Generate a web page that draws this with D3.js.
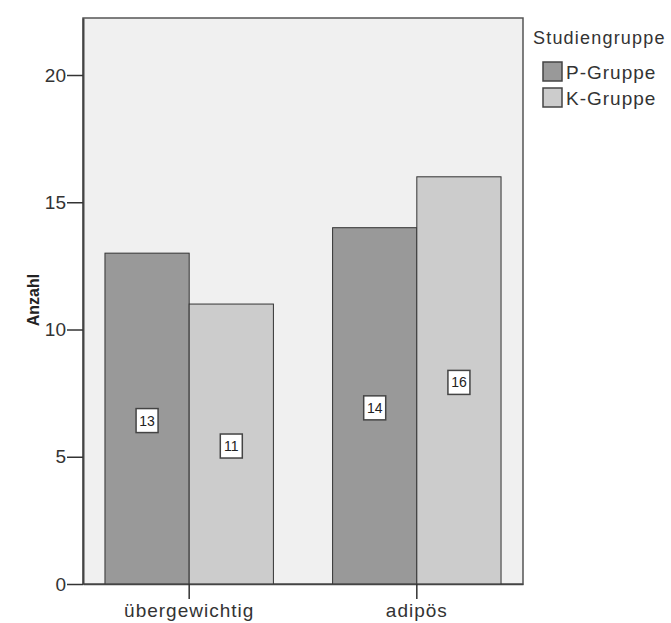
<!DOCTYPE html>
<html>
<head>
<meta charset="utf-8">
<script src="https://cdn.jsdelivr.net/npm/d3@7"></script>
<style>
  body { margin: 0; background: #fff; }
  svg { display: block; font-family: Arial, "Liberation Sans", sans-serif; }
</style>
</head>
<body>
<svg width="671" height="623"></svg>
<script>
// chart data
const categories = ["übergewichtig", "adipös"];
const groups = ["P-Gruppe", "K-Gruppe"];
const pValues = [13, 14];
const kValues = [11, 16];
const yTicks = [0, 5, 10, 15, 20];

const colors = { "P-Gruppe": "#999999", "K-Gruppe": "#cccccc" };

const rows = categories.map((c, i) => ({
  cat: c,
  vals: [{ g: "P-Gruppe", v: pValues[i] }, { g: "K-Gruppe", v: kValues[i] }]
}));

const svg = d3.select("svg");

const plot = { left: 83, right: 523, top: 18, bottom: 584 };

const y = d3.scaleLinear()
  .domain([0, 22.24])
  .range([plot.bottom, plot.top]);

const x0 = d3.scaleBand()
  .domain(categories)
  .range([plot.left, plot.right])
  .paddingInner(0.26)
  .paddingOuter(0.0965);

const x1 = d3.scaleBand()
  .domain(groups)
  .range([0, x0.bandwidth()]);

// plot background
svg.append("rect")
  .attr("x", plot.left).attr("y", plot.top)
  .attr("width", plot.right - plot.left)
  .attr("height", plot.bottom - plot.top)
  .attr("fill", "#f0f0f0")
  .attr("stroke", "#555")
  .attr("stroke-width", 1.5);

// bars
const g = svg.selectAll(".grp").data(rows).enter()
  .append("g")
  .attr("class", "grp")
  .attr("transform", d => `translate(${x0(d.cat)},0)`);

g.selectAll("rect").data(d => d.vals).enter()
  .append("rect")
  .attr("x", d => x1(d.g))
  .attr("y", d => y(d.v))
  .attr("width", x1.bandwidth())
  .attr("height", d => y(0) - y(d.v))
  .attr("fill", d => colors[d.g])
  .attr("stroke", "#333")
  .attr("stroke-width", 1);

// value labels in boxes
const lab = g.selectAll(".lab").data(d => d.vals).enter()
  .append("g")
  .attr("class", "lab")
  .attr("transform", d => `translate(${x1(d.g) + x1.bandwidth() / 2},${y(d.v / 2) + 2})`);

lab.append("rect")
  .attr("x", -11).attr("y", -12)
  .attr("width", 22).attr("height", 24)
  .attr("fill", "#fff")
  .attr("stroke", "#444")
  .attr("stroke-width", 1.5);

lab.append("text")
  .attr("text-anchor", "middle")
  .attr("dy", "0.36em")
  .style("font-size", "14px")
  .attr("fill", "#222")
  .text(d => d.v);

// y axis
const yAxis = d3.axisLeft(y)
  .tickValues(yTicks)
  .tickSize(16)
  .tickPadding(1)
  .tickSizeOuter(0);

const ya = svg.append("g")
  .attr("transform", `translate(${plot.left},0)`)
  .call(yAxis);
ya.select(".domain").attr("stroke", "#444").attr("stroke-width", 2);
ya.selectAll(".tick line").attr("stroke", "#333").attr("stroke-width", 1.5);
ya.selectAll(".tick text")
  .attr("fill", "#333")
  .style("font-size", "19px")
  .style("font-family", "Arial, 'Liberation Sans', sans-serif");

// x axis
const xAxis = d3.axisBottom(x0)
  .tickSize(15)
  .tickPadding(5)
  .tickSizeOuter(0);

const xa = svg.append("g")
  .attr("transform", `translate(0,${plot.bottom})`)
  .call(xAxis);
xa.select(".domain").attr("stroke", "#444").attr("stroke-width", 1.5);
xa.selectAll(".tick line").attr("stroke", "#333").attr("stroke-width", 1.5);
xa.selectAll(".tick text")
  .attr("fill", "#333")
  .style("font-size", "19px")
  .style("letter-spacing", "1px")
  .style("font-family", "Arial, 'Liberation Sans', sans-serif");

// y axis title
svg.append("text")
  .attr("transform", "translate(39,300) rotate(-90)")
  .attr("text-anchor", "middle")
  .style("font-size", "16px")
  .style("font-weight", "bold")
  .attr("fill", "#222")
  .text("Anzahl");

// legend
const legend = svg.append("g").attr("transform", "translate(533,0)");

legend.append("text")
  .attr("x", 0).attr("y", 44)
  .style("font-size", "18px")
  .style("letter-spacing", "1.2px")
  .attr("fill", "#333")
  .text("Studiengruppe");

const li = legend.selectAll(".li").data(groups).enter()
  .append("g")
  .attr("class", "li")
  .attr("transform", (d, i) => `translate(10,${62 + i * 26})`);

li.append("rect")
  .attr("width", 19).attr("height", 19)
  .attr("fill", d => colors[d])
  .attr("stroke", "#444")
  .attr("stroke-width", 1.5);

li.append("text")
  .attr("x", 23).attr("y", 17)
  .style("font-size", "19px")
  .style("letter-spacing", "1px")
  .attr("fill", "#333")
  .text(d => d);
</script>
</body>
</html>
